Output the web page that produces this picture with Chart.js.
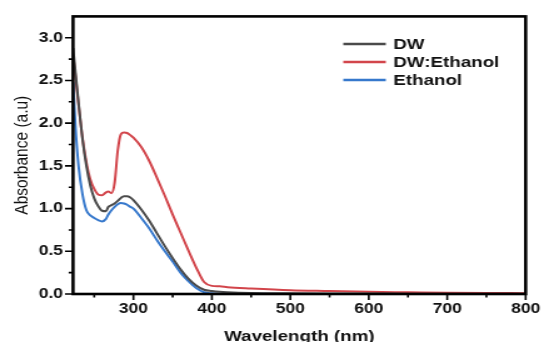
<!DOCTYPE html>
<html>
<head>
<meta charset="utf-8">
<script src="https://cdn.jsdelivr.net/npm/chart.js@4.4.1/dist/chart.umd.min.js"></script>
<style>
  html, body { margin: 0; padding: 0; background: #fff; }
  #chart { display: block; }
</style>
</head>
<body>
<!-- the source figure is stretched sideways, so the canvas is too -->
<canvas id="chart" width="439" height="342" style="width:549px;height:342px"></canvas>
<script>
// wavelength grid (nm)
const wavelengths = [223, 226, 230, 235, 240, 245, 250, 255, 260, 265, 268, 272, 276, 280, 284, 288, 292, 296, 300,
  310, 320, 330, 340, 350, 360, 370, 380, 390, 400, 410, 420, 450, 500, 550, 600, 650, 700, 750, 800];

// absorbance values
const dwValues = [2.88, 2.60, 2.24, 1.82, 1.50, 1.27, 1.12, 1.03, 0.975, 0.97, 1.02, 1.04, 1.06, 1.09, 1.125, 1.145, 1.145, 1.13, 1.10,
  0.99, 0.86, 0.71, 0.56, 0.42, 0.29, 0.18, 0.10, 0.05, 0.035, 0.025, 0.02, 0.012, 0.008, 0.006, 0.005, 0.004, 0.003, 0.002, 0.002];
const dwEthanolValues = [2.80, 2.56, 2.22, 1.83, 1.54, 1.34, 1.23, 1.165, 1.155, 1.19, 1.20, 1.18, 1.30, 1.68, 1.87, 1.89, 1.885, 1.86, 1.83,
  1.72, 1.56, 1.36, 1.15, 0.93, 0.72, 0.51, 0.31, 0.14, 0.095, 0.09, 0.08, 0.065, 0.045, 0.035, 0.025, 0.02, 0.015, 0.012, 0.01];
const ethanolValues = [2.48, 1.97, 1.50, 1.17, 0.98, 0.92, 0.89, 0.865, 0.85, 0.88, 0.93, 0.98, 1.02, 1.05, 1.065, 1.06, 1.045, 1.02, 1.00,
  0.89, 0.77, 0.63, 0.50, 0.38, 0.25, 0.15, 0.07, 0.02, 0.008, 0.004, 0.003, 0.002, 0.001, 0.001, 0.001, 0.001, 0.001, 0.001, 0.001];

const seriesNames = ['DW', 'DW:Ethanol', 'Ethanol'];
const seriesColors = ['#4a4a4a', '#d2454b', '#3678cc'];

// axis ticks
const xTicks = [300, 400, 500, 600, 700, 800];
const xMinorTicks = [250, 350, 450, 550, 650, 750];
const yTicks = [0, 0.5, 1.0, 1.5, 2.0, 2.5, 3.0];
const yMinorTicks = [0.25, 0.75, 1.25, 1.75, 2.25, 2.75];

function toPoints(values) {
    return wavelengths.map((w, i) => ({ x: w, y: values[i] }));
}

// frame, outward tick marks and the legend box inside the plot
const framePlugin = {
    id: 'frame',
    afterDraw(chart) {
        const ctx = chart.ctx;
        const area = chart.chartArea;
        const xs = chart.scales.x;
        const ys = chart.scales.y;
        ctx.save();
        ctx.strokeStyle = '#000';
        ctx.lineWidth = 1.6;
        ctx.beginPath();
        xTicks.forEach(v => {
            const px = xs.getPixelForValue(v);
            ctx.moveTo(px, area.bottom);
            ctx.lineTo(px, area.bottom + 6);
        });
        xMinorTicks.forEach(v => {
            const px = xs.getPixelForValue(v);
            ctx.moveTo(px, area.bottom);
            ctx.lineTo(px, area.bottom + 3.5);
        });
        yTicks.forEach(v => {
            const py = ys.getPixelForValue(v);
            ctx.moveTo(area.left, py);
            ctx.lineTo(area.left - 6.4, py);
        });
        yMinorTicks.forEach(v => {
            const py = ys.getPixelForValue(v);
            ctx.moveTo(area.left, py);
            ctx.lineTo(area.left - 3.5, py);
        });
        ctx.stroke();

        ctx.lineWidth = 2.6;
        ctx.strokeRect(area.left, area.top, area.right - area.left, area.bottom - area.top);

        // legend
        ctx.font = 'bold 15px "Liberation Sans", Arial, sans-serif';
        ctx.textBaseline = 'middle';
        ctx.textAlign = 'left';
        chart.data.datasets.forEach((ds, i) => {
            const rowY = 44 + i * 18;
            ctx.strokeStyle = ds.borderColor;
            ctx.lineWidth = 2.4;
            ctx.beginPath();
            ctx.moveTo(274.5, rowY);
            ctx.lineTo(308.5, rowY);
            ctx.stroke();
            ctx.fillStyle = '#111';
            ctx.fillText(ds.label, 314.5, rowY + 0.5);
        });
        ctx.restore();
    }
};

const ctx = document.getElementById('chart').getContext('2d');
const chart = new Chart(ctx, {
    type: 'line',
    data: {
        datasets: [dwValues, dwEthanolValues, ethanolValues].map((vals, i) => ({
            label: seriesNames[i],
            data: toPoints(vals),
            borderColor: seriesColors[i],
            borderWidth: 2,
            pointRadius: 0,
            cubicInterpolationMode: 'monotone',
            fill: false
        }))
    },
    options: {
        responsive: false,
        devicePixelRatio: 1,
        animation: false,
        layout: { padding: { left: 0, right: 14.8, top: 11, bottom: 0 } },
        plugins: {
            legend: { display: false },
            tooltip: { enabled: false }
        },
        scales: {
            x: {
                type: 'linear',
                min: 223,
                max: 800,
                grid: { display: false, drawTicks: false },
                border: { display: false },
                afterBuildTicks: s => { s.ticks = xTicks.map(v => ({ value: v })); },
                afterFit: s => { s.height = 48; },
                ticks: {
                    padding: 7,
                    color: '#111',
                    maxRotation: 0,
                    font: { family: '"Liberation Sans", Arial, sans-serif', size: 14, weight: 'bold' }
                },
                title: {
                    display: true,
                    text: 'Wavelength (nm)',
                    color: '#111',
                    padding: 0,
                    font: { family: '"Liberation Sans", Arial, sans-serif', size: 15, weight: 'bold', lineHeight: 0.75 }
                }
            },
            y: {
                min: 0,
                max: 3.25,
                grid: { display: false, drawTicks: false },
                border: { display: false },
                afterBuildTicks: s => { s.ticks = yTicks.map(v => ({ value: v })); },
                afterFit: s => { s.width = 58.4; },
                ticks: {
                    padding: 8,
                    color: '#111',
                    callback: v => v.toFixed(1),
                    font: { family: '"Liberation Sans", Arial, sans-serif', size: 14, weight: 'bold' }
                },
                title: {
                    display: true,
                    text: 'Absorbance (a.u)',
                    color: '#111',
                    padding: { top: 8, bottom: 0 },
                    font: { family: '"Liberation Sans", Arial, sans-serif', size: 15.5 }
                }
            }
        }
    },
    plugins: [framePlugin]
});
</script>
</body>
</html>
